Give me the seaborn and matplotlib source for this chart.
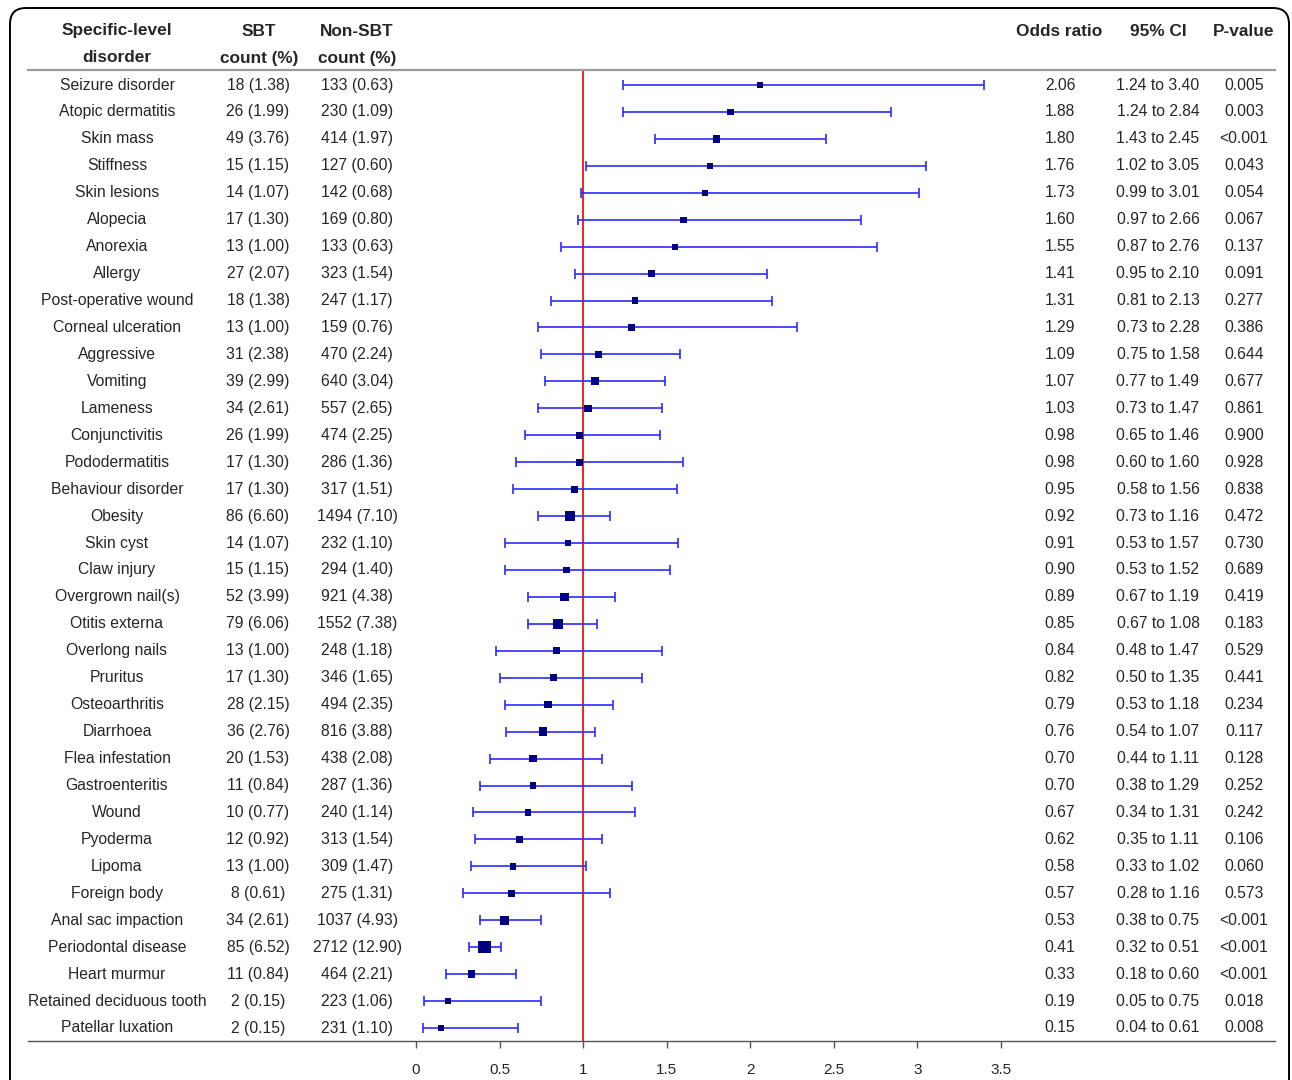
import matplotlib
matplotlib.use("Agg")
import matplotlib.pyplot as plt
import matplotlib.transforms as mtransforms
from matplotlib.patches import FancyBboxPatch
import numpy as np
import pandas as pd
import seaborn as sns

sns.set_style("white")
plt.rcParams["font.family"] = ["Liberation Sans", "DejaVu Sans"]

disorders = ["Seizure disorder", "Atopic dermatitis", "Skin mass", "Stiffness", "Skin lesions",
             "Alopecia", "Anorexia", "Allergy", "Post-operative wound", "Corneal ulceration",
             "Aggressive", "Vomiting", "Lameness", "Conjunctivitis", "Pododermatitis",
             "Behaviour disorder", "Obesity", "Skin cyst", "Claw injury", "Overgrown nail(s)",
             "Otitis externa", "Overlong nails", "Pruritus", "Osteoarthritis", "Diarrhoea",
             "Flea infestation", "Gastroenteritis", "Wound", "Pyoderma", "Lipoma",
             "Foreign body", "Anal sac impaction", "Periodontal disease", "Heart murmur",
             "Retained deciduous tooth", "Patellar luxation"]
sbt_n = [18, 26, 49, 15, 14, 17, 13, 27, 18, 13, 31, 39, 34, 26, 17, 17, 86, 14, 15, 52,
         79, 13, 17, 28, 36, 20, 11, 10, 12, 13, 8, 34, 85, 11, 2, 2]
sbt_pct = [1.38, 1.99, 3.76, 1.15, 1.07, 1.30, 1.00, 2.07, 1.38, 1.00, 2.38, 2.99, 2.61, 1.99,
           1.30, 1.30, 6.60, 1.07, 1.15, 3.99, 6.06, 1.00, 1.30, 2.15, 2.76, 1.53, 0.84, 0.77,
           0.92, 1.00, 0.61, 2.61, 6.52, 0.84, 0.15, 0.15]
non_n = [133, 230, 414, 127, 142, 169, 133, 323, 247, 159, 470, 640, 557, 474, 286, 317, 1494,
         232, 294, 921, 1552, 248, 346, 494, 816, 438, 287, 240, 313, 309, 275, 1037, 2712, 464,
         223, 231]
non_pct = [0.63, 1.09, 1.97, 0.60, 0.68, 0.80, 0.63, 1.54, 1.17, 0.76, 2.24, 3.04, 2.65, 2.25,
           1.36, 1.51, 7.10, 1.10, 1.40, 4.38, 7.38, 1.18, 1.65, 2.35, 3.88, 2.08, 1.36, 1.14,
           1.54, 1.47, 1.31, 4.93, 12.90, 2.21, 1.06, 1.10]
odds = [2.06, 1.88, 1.80, 1.76, 1.73, 1.60, 1.55, 1.41, 1.31, 1.29, 1.09, 1.07, 1.03, 0.98, 0.98,
        0.95, 0.92, 0.91, 0.90, 0.89, 0.85, 0.84, 0.82, 0.79, 0.76, 0.70, 0.70, 0.67, 0.62, 0.58,
        0.57, 0.53, 0.41, 0.33, 0.19, 0.15]
ci_low = [1.24, 1.24, 1.43, 1.02, 0.99, 0.97, 0.87, 0.95, 0.81, 0.73, 0.75, 0.77, 0.73, 0.65,
          0.60, 0.58, 0.73, 0.53, 0.53, 0.67, 0.67, 0.48, 0.50, 0.53, 0.54, 0.44, 0.38, 0.34,
          0.35, 0.33, 0.28, 0.38, 0.32, 0.18, 0.05, 0.04]
ci_high = [3.40, 2.84, 2.45, 3.05, 3.01, 2.66, 2.76, 2.10, 2.13, 2.28, 1.58, 1.49, 1.47, 1.46,
           1.60, 1.56, 1.16, 1.57, 1.52, 1.19, 1.08, 1.47, 1.35, 1.18, 1.07, 1.11, 1.29, 1.31,
           1.11, 1.02, 1.16, 0.75, 0.51, 0.60, 0.75, 0.61]
p_values = ["0.005", "0.003", "<0.001", "0.043", "0.054", "0.067", "0.137", "0.091", "0.277",
            "0.386", "0.644", "0.677", "0.861", "0.900", "0.928", "0.838", "0.472", "0.730",
            "0.689", "0.419", "0.183", "0.529", "0.441", "0.234", "0.117", "0.128", "0.252",
            "0.242", "0.106", "0.060", "0.573", "<0.001", "<0.001", "<0.001", "0.018", "0.008"]
x_ticks = [0, 0.5, 1, 1.5, 2, 2.5, 3, 3.5]

df = pd.DataFrame({"disorder": disorders, "odds": odds, "low": ci_low, "high": ci_high,
                   "total": np.array(sbt_n) + np.array(non_n)})
df["row"] = np.arange(len(df))

W, H = 1292, 1080
fig = plt.figure(figsize=(W / 100, H / 100), dpi=100)

# axes spans the table width; x scale set so 0 -> px 416 and 3.5 -> px 1001
ax = fig.add_axes([28 / W, 1 - 1041 / H, (1275 - 28) / W, (1041 - 70) / H])
upp = 3.5 / (1001 - 416)
ax.set_xlim((28 - 416) * upp, (1275 - 416) * upp)
step = (1028 - 85) / 35
ax.set_ylim((1041 - 85) / step, (70 - 85) / step)

ax.axvline(1, color="#ee1111", lw=1.3, zorder=1)
ax.errorbar(df["odds"], df["row"], xerr=[df["odds"] - df["low"], df["high"] - df["odds"]],
            fmt="none", ecolor="#2b2bff", elinewidth=1.2, capsize=3.5, capthick=1.2, zorder=2)
sns.scatterplot(data=df, x="odds", y="row", size="total", sizes=(20, 80), marker="s",
                color="#000080", linewidth=0, legend=False, ax=ax, zorder=3)

ax.set_xticks(x_ticks)
ax.set_xticklabels([f"{t:g}" for t in x_ticks], fontsize=11)
ax.set_yticks([])
ax.set_xlabel("")
ax.set_ylabel("")
for s in ["left", "right"]:
    ax.spines[s].set_visible(False)
ax.spines["top"].set_color("#9a9a9a")
ax.spines["top"].set_linewidth(1.6)
ax.spines["bottom"].set_color("#555555")
ax.spines["bottom"].set_linewidth(1.0)
ax.tick_params(axis="x", direction="out", length=5, width=1, color="#555555", pad=11,
               bottom=True)

# table columns
trans = mtransforms.blended_transform_factory(fig.transFigure, ax.transData)
fs = 11.3
for i in range(len(df)):
    fig.text(117 / W, i, disorders[i], transform=trans, ha="center", va="center", fontsize=fs)
    fig.text(258 / W, i, f"{sbt_n[i]} ({sbt_pct[i]:.2f})", transform=trans, ha="center",
             va="center", fontsize=fs)
    fig.text(357 / W, i, f"{non_n[i]} ({non_pct[i]:.2f})", transform=trans, ha="center",
             va="center", fontsize=fs)
    fig.text(1060 / W, i, f"{odds[i]:.2f}", transform=trans, ha="center", va="center", fontsize=fs)
    fig.text(1158 / W, i, f"{ci_low[i]:.2f} to {ci_high[i]:.2f}", transform=trans, ha="center",
             va="center", fontsize=fs)
    fig.text(1244 / W, i, p_values[i], transform=trans, ha="center", va="center", fontsize=fs)

# header
hfs = 12.4
for x, y, s in [(117, 31, "Specific-level"), (117, 58, "disorder"),
                (259, 31, "SBT"), (259, 58, "count (%)"),
                (357, 31, "Non-SBT"), (357, 58, "count (%)"),
                (1059, 31, "Odds ratio"), (1158, 31, "95% CI"), (1244, 31, "P-value")]:
    fig.text(x / W, 1 - y / H, s, ha="center", va="center", fontsize=hfs, fontweight="bold")

# rounded frame around the figure
frame = FancyBboxPatch((10, -40), 1279, H - 8 + 40, boxstyle="round,pad=0,rounding_size=16",
                       transform=mtransforms.IdentityTransform(), fill=False,
                       edgecolor="black", linewidth=1.4)
fig.patches.append(frame)

fig.savefig("out.png", dpi=100)
